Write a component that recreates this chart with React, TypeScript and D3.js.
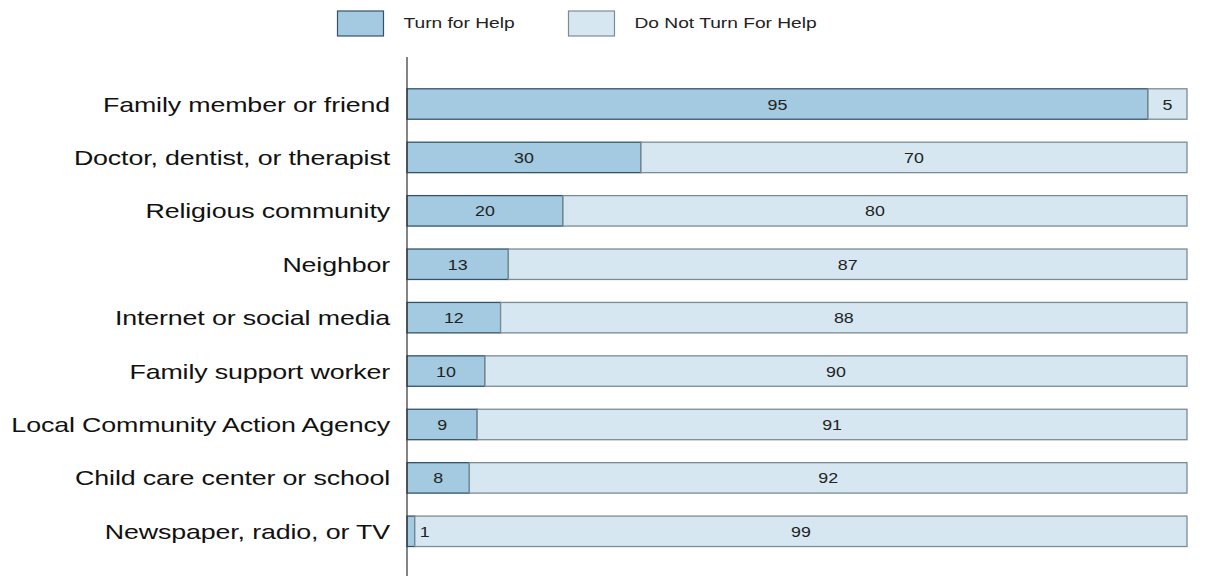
import * as React from 'react';
import * as d3 from 'd3';

const categories = [
  'Family member or friend',
  'Doctor, dentist, or therapist',
  'Religious community',
  'Neighbor',
  'Internet or social media',
  'Family support worker',
  'Local Community Action Agency',
  'Child care center or school',
  'Newspaper, radio, or TV',
];
const turnForHelp = [95, 30, 20, 13, 12, 10, 9, 8, 1];
const doNotTurn = [5, 70, 80, 87, 88, 90, 91, 92, 99];
const seriesNames = ['Turn for Help', 'Do Not Turn For Help'];

const fills = ['#a3cae0', '#d6e7f1'];
const strokes = ['#34536a', '#7d8b94'];

const width = 1221;
const height = 576;
const left = 407;
const right = 1187;
const font = 'Liberation Sans, Arial, sans-serif';
// the reference text is stretched sideways
const stretch = 1.34;
const legendStretch = 1.37;

const App = () => {
  const x = d3.scaleLinear().domain([0, 100]).range([left, right]);
  const y = d3.scaleBand().domain(categories).range([77.3, 558]).paddingInner(0.43).paddingOuter(0.215);

  const rows = categories.map((c, i) => {
    const vals = [turnForHelp[i], doNotTurn[i]];
    const stack = [[0, vals[0]], [vals[0], vals[0] + vals[1]]];
    return { c, vals, stack };
  });

  return (
    <svg width={width} height={height} style={{ position: 'absolute', left: 0, top: 0 }}>
      {/* legend */}
      {seriesNames.map((name, k) => {
        const lx = k === 0 ? 337.5 : 568.5;
        return (
          <g key={name}>
            <rect x={lx} y={11} width={46} height={25} fill={fills[k]} stroke={strokes[k]} strokeWidth={1.2} />
            <text
              transform={`translate(${lx + 66},28) scale(${legendStretch},1)`}
              fontFamily={font}
              fontSize={14}
              fill="#222"
            >
              {name}
            </text>
          </g>
        );
      })}

      {/* bars */}
      {rows.map((r) => (
        <g key={r.c}>
          {r.stack.map(([a, b], k) => (
            <rect
              key={k}
              x={x(a)}
              y={y(r.c)}
              width={x(b) - x(a)}
              height={y.bandwidth()}
              fill={fills[k]}
              stroke={strokes[k]}
              strokeWidth={1.3}
            />
          ))}
          {r.stack.map(([a, b], k) => {
            const w = x(b) - x(a);
            const small = w < 14;
            const tx = small ? x(b) + 5 : (x(a) + x(b)) / 2;
            const ty = (y(r.c) as number) + y.bandwidth() / 2 + 5.5;
            return (
              <text
                key={'t' + k}
                transform={`translate(${tx},${ty}) scale(1.15,1)`}
                textAnchor={small ? 'start' : 'middle'}
                fontFamily={font}
                fontSize={15.5}
                fill="#222"
              >
                {r.vals[k]}
              </text>
            );
          })}
          <text
            transform={`translate(390,${(y(r.c) as number) + y.bandwidth() / 2 + 7.5}) scale(${stretch},1)`}
            textAnchor="end"
            fontFamily={font}
            fontSize={20}
            letterSpacing={-0.1}
            fill="#111"
          >
            {r.c}
          </text>
        </g>
      ))}

      {/* axis line */}
      <line x1={left} x2={left} y1={57} y2={576} stroke="#333" strokeWidth={1.2} />
    </svg>
  );
};

export default App;
